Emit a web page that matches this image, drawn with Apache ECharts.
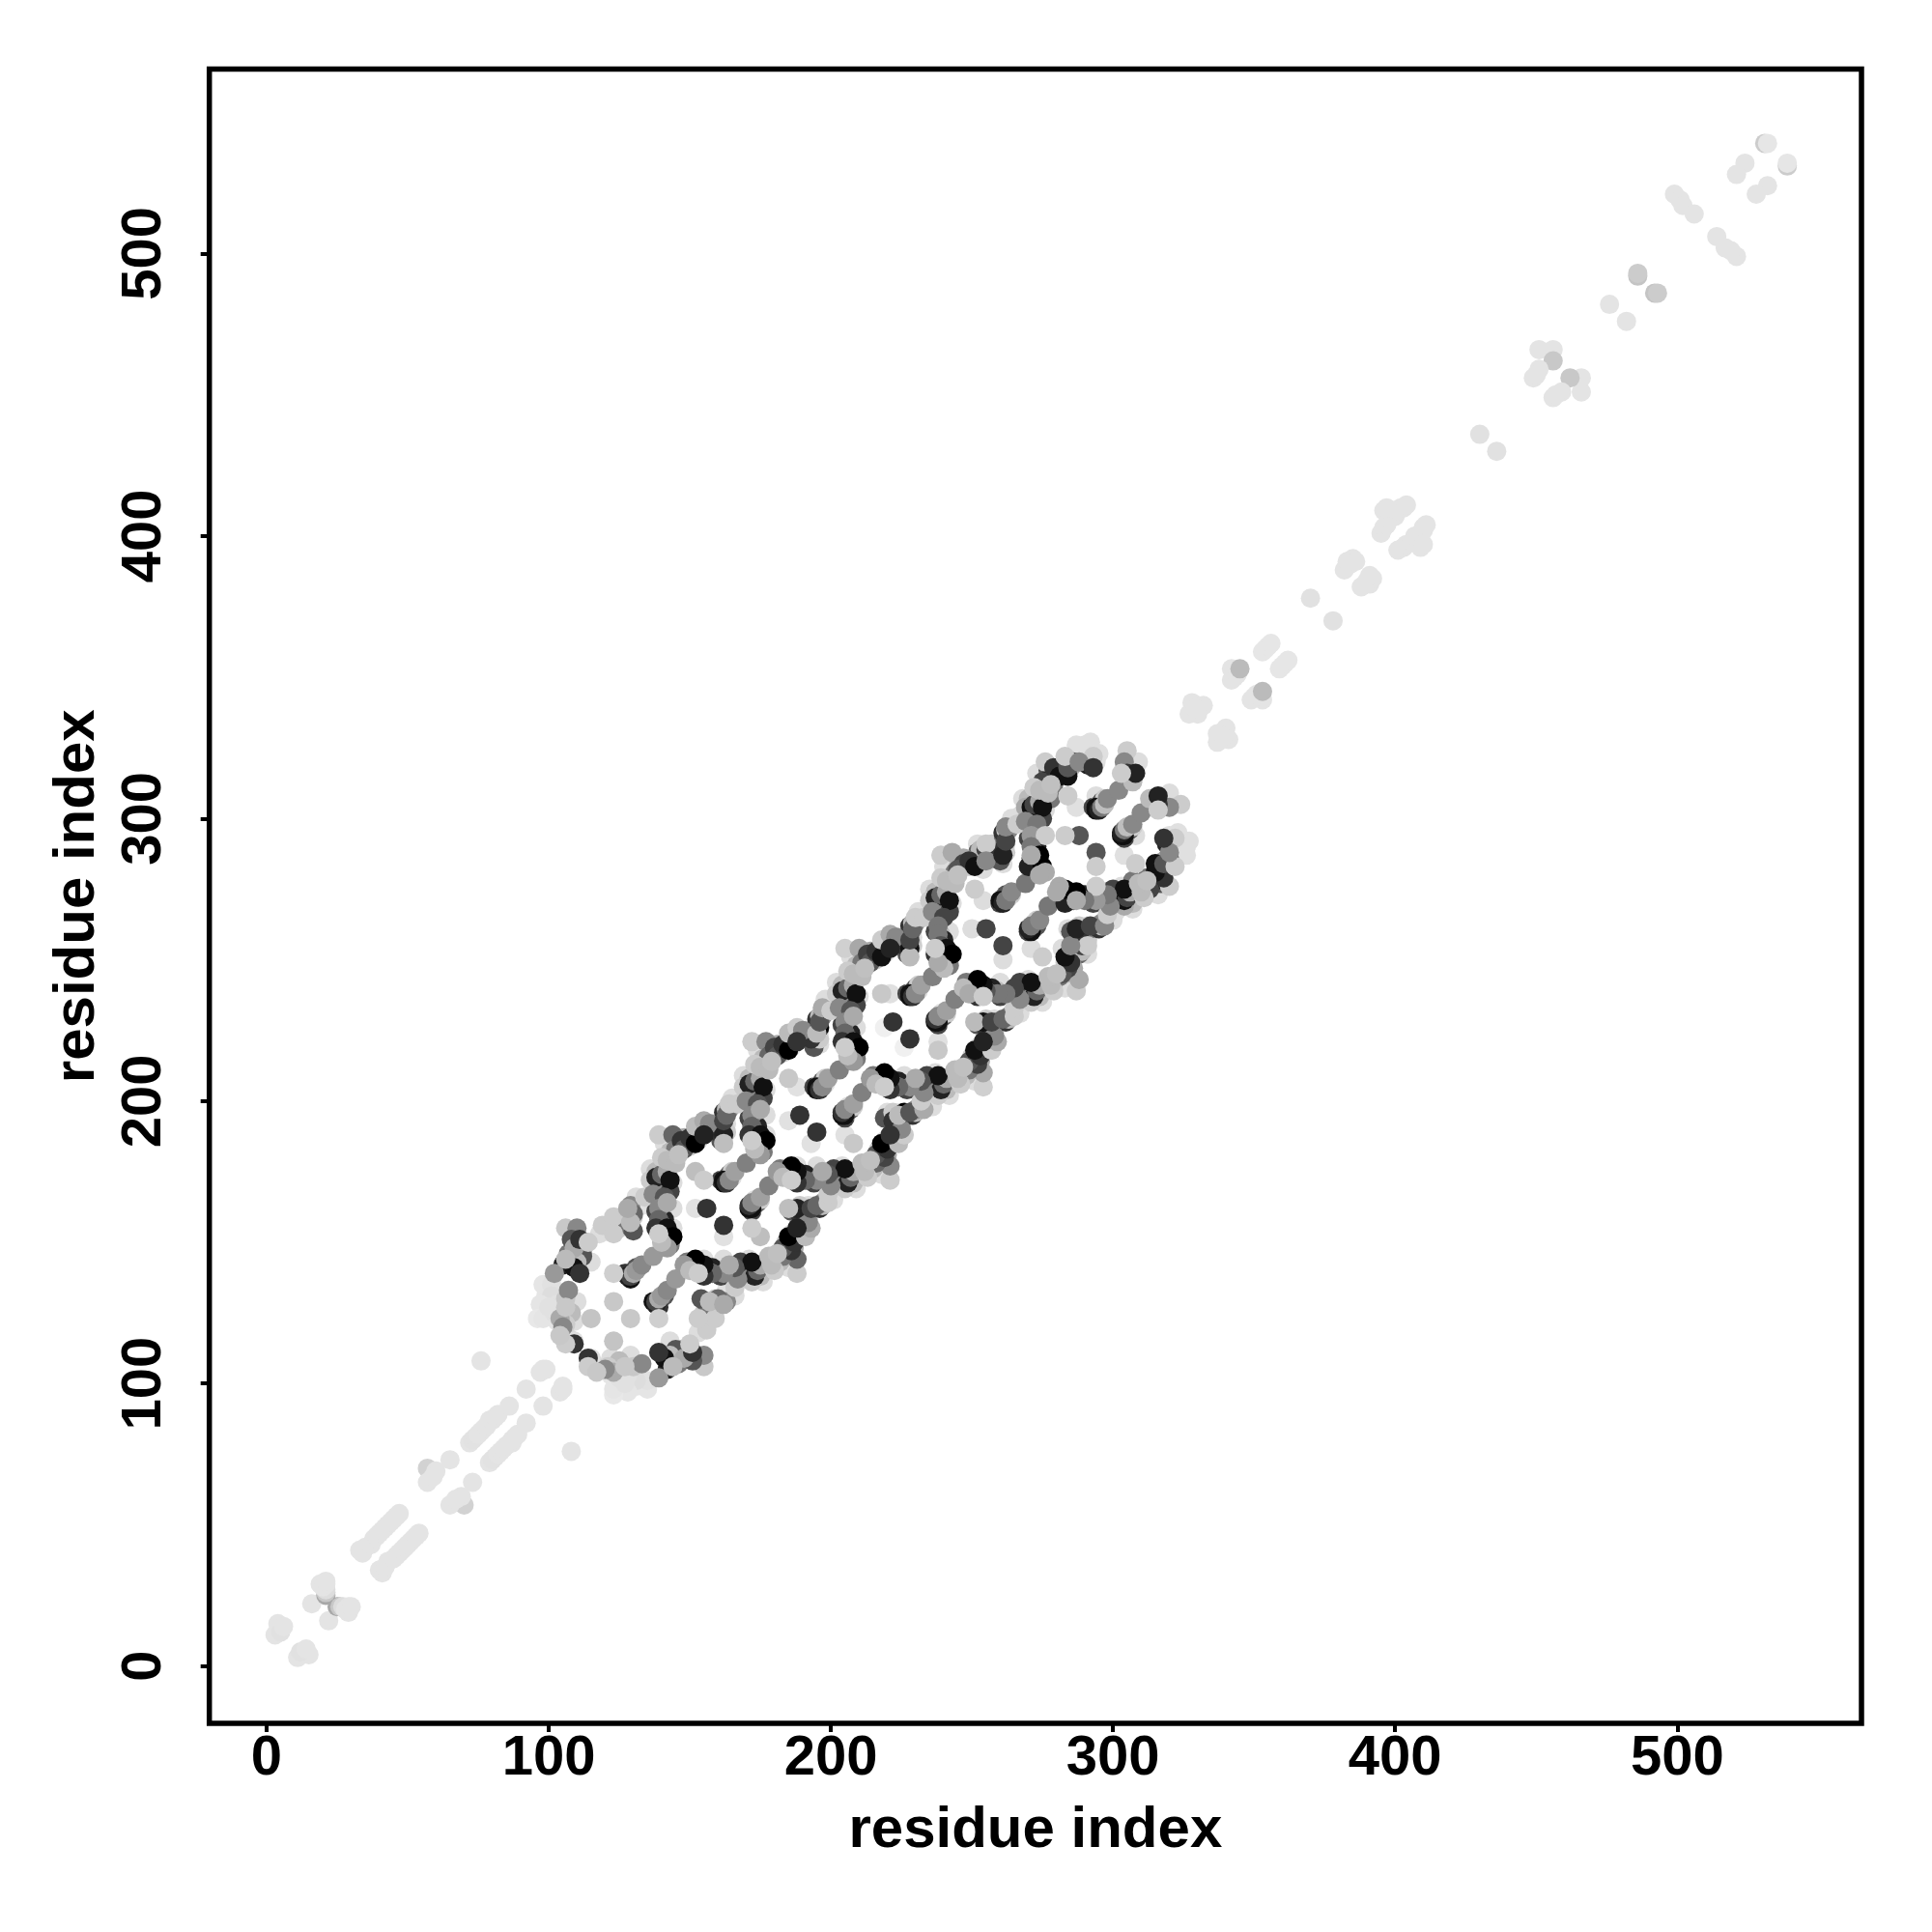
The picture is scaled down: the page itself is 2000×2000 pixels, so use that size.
<!DOCTYPE html>
<html>
<head>
<meta charset="utf-8">
<script src="https://cdn.jsdelivr.net/npm/echarts@6/dist/echarts.min.js"></script>
<style>html,body{margin:0;padding:0;background:#fff}#c{width:2000px;height:2000px}</style>
</head>
<body>
<div id="c"></div>
<script>
// Contacts as [residue i, residue j, grey level]; the map is symmetric, only i<j is listed.
const tailLow = [[4,15,228],[3,11,228],[5,12,225],[6,14,228],[16,22,228],[19,29,228],[21,25,168],[21,26,200],[21,27,221],[20,28,228],[21,29,228],[21,30,228],
[33,41,228],[34,40,228],[35,42,228],[37,43,228],[38,45,228],[39,46,228],[40,47,228],[41,48,228],[42,49,228],[43,50,228],[44,51,228],[45,52,228],[46,53,228],[47,54,228],
[57,70,210],[60,69,228],[57,65,228],[59,67,228],[65,73,228],
[72,79,228],[73,80,226],[74,81,226],[75,82,228],[76,83,228],[77,84,228],[78,85,228],[79,87,228],[80,87,228],[81,88,228],[82,89,228],[86,92,228],[76,108,228],
[92,98,228],[97,104,228],[98,105,228],[99,105,228]];
const repeat123 = [[112,147,170],[112,145,85],[108,144,34],[107,146,120],[110,143,187],[125,155,204],[121,155,221],[128,156,119],[129,160,68],[129,163,136],[130,159,204],[106,130,200],[108,125,187],[106,121,204],[99,131,229],[103,122,229],[107,116,210],[128,139,68],[129,137,17],[130,140,187],[131,141,85],
[106,155,200],[110,155,136],[108,151,85],[109,148,170],[111,151,51],[114,150,204],[115,143,221],[105,142,34],[109,141,17],[111,139,51],[102,139,153],[106,144,187],[119,156,204],[123,159,204],[123,153,204],[118,153,221],[130,154,85],[130,160,102],[129,157,187],[128,162,170],[131,166,221],[127,158,210],[133,163,225],
[98,135,229],[101,135,225],[101,131,221],[97,128,229],[96,123,232],[98,123,229],[102,125,225],[107,133,136],[110,129,221],[115,123,196],[104,123,170],[105,120,136],[109,122,221],[109,114,51],[109,115,224],[106,114,204],[106,127,200],[103,128,225],[100,127,225],[104,117,200],
[127,139,51],[128,138,34],[129,138,68],[130,139,170],[131,140,153],[133,142,136],[137,145,153],[123,139,207],[123,129,200]];
const repeat156 = [[146,184,187],[149,185,34],[151,186,170],[153,189,102],[154,190,187],[156,190,68],[158,192,204],[148,187,170],[150,184,204],[161,186,85],[163,189,204],[162,193,119],[163,192,221],[162,196,51],[163,197,187],[164,197,136],[160,189,51],
[138,175,187],[139,171,51],[141,170,17],[142,172,187],[140,169,136],[143,168,68],[139,165,170],[138,161,68],[140,160,187],[141,158,34],[140,156,204],[142,153,34],[141,152,187],[143,149,120],[161,172,68],[162,171,17],[163,173,187],[164,174,85],[165,175,204],
[139,188,204],[144,188,102],[141,185,221],[143,182,187],[145,183,119],[147,186,51],[148,183,85],[150,187,51],[152,185,0],[152,191,187],[155,193,170],[157,192,136],[155,188,34],[153,186,221],[162,188,34],[162,185,190],[162,193,68],[163,195,102],[164,199,204],[165,201,221],
[136,176,221],[136,172,204],[138,173,34],[140,174,102],[142,175,170],[143,172,17],[144,171,221],[141,177,221],[140,180,204],[142,179,187],[145,178,187],[146,181,192],[134,166,204],[137,167,136],[141,166,85],[139,162,136],[144,162,221],[139,158,102],[138,155,51],[142,155,17],[144,152,0],[144,155,221],[143,151,221],[142,148,153],[140,150,187],[139,153,204],[142,164,170],
[162,172,17],[163,171,51],[164,172,136],[165,173,221],[166,175,160],[170,178,128],[152,175,190],[155,172,204],[156,162,51],[152,162,225]];
const repeat189 = [[179,217,187],[182,218,34],[184,219,170],[186,222,102],[187,223,187],[189,223,68],[191,225,204],[181,220,170],[183,217,204],[194,219,85],[196,222,204],[195,226,119],[196,225,221],[195,229,51],[196,230,187],[197,230,136],[193,222,51],
[171,208,187],[172,204,51],[174,203,17],[175,205,187],[173,202,136],[176,201,68],[172,198,170],[171,194,68],[173,193,187],[174,191,34],[173,189,204],[175,186,34],[174,185,187],[176,182,120],[194,205,68],[195,204,17],[196,206,187],[197,207,85],[198,208,204],
[172,221,204],[177,221,136],[174,218,221],[176,215,187],[178,216,102],[180,219,68],[181,216,85],[183,220,51],[185,218,0],[185,224,187],[188,226,204],[190,225,136],[188,221,51],[186,219,221],[196,226,0],[195,224,187],[196,228,85],[196,220,221],[197,233,170],[198,236,221],
[169,209,221],[169,205,204],[171,206,34],[173,207,102],[175,208,170],[176,205,17],[177,204,221],[174,210,221],[173,213,204],[175,212,187],[178,211,187],[179,214,192],[167,199,204],[170,200,136],[174,199,85],[172,195,136],[177,195,221],[172,191,102],[171,188,51],[175,188,17],[177,186,0],[177,188,221],[176,184,221],[175,181,153],[173,183,187],[172,186,204],[175,197,170],
[195,205,17],[196,204,51],[197,205,136],[198,206,221],[199,208,160],[203,211,128],[185,208,200],[188,205,225],[189,195,51],[185,193,225]];
const repeat222 = [[212,250,187],[215,251,34],[217,252,170],[219,255,102],[220,256,187],[222,256,68],[224,258,204],[214,253,170],[216,250,204],[227,252,85],[229,255,204],[228,259,119],[229,258,221],[228,262,51],[229,263,187],[230,263,136],[226,255,51],
[204,241,187],[205,237,51],[207,236,17],[208,238,187],[206,235,136],[209,234,68],[205,231,170],[204,227,68],[206,226,187],[207,224,34],[206,222,204],[208,219,34],[207,218,187],[209,215,120],[227,238,68],[228,237,17],[229,239,187],[230,240,85],[231,241,204],
[205,254,208],[210,254,168],[207,251,221],[209,248,187],[211,249,119],[213,252,64],[214,249,85],[216,253,51],[218,251,17],[218,257,204],[221,259,170],[223,258,136],[221,254,34],[219,252,221],[228,254,17],[228,251,187],[228,257,68],[229,261,102],[230,265,204],[231,267,221],
[202,242,221],[202,238,204],[204,239,34],[206,240,102],[208,241,170],[209,238,17],[210,237,221],[207,243,221],[206,246,204],[208,245,187],[211,244,187],[212,247,192],[200,232,204],[203,233,136],[207,232,85],[205,228,136],[209,226,221],[205,224,102],[204,221,51],[208,221,17],[210,219,0],[209,217,221],[208,214,153],[206,216,187],[205,219,204],[208,230,170],
[228,238,17],[229,237,51],[230,238,136],[231,239,221],[232,241,160],[236,244,128],[218,238,200],[221,238,224],[222,228,51],[219,226,240]];
const repeat255 = [[245,283,187],[248,284,34],[250,285,170],[252,288,102],[253,289,187],[255,289,68],[257,291,204],[247,286,170],[249,283,204],[260,285,85],[262,288,204],[261,292,119],[262,291,221],[261,295,51],[262,296,187],[263,296,136],[259,288,51],
[237,274,187],[238,270,51],[240,269,17],[241,271,187],[239,268,136],[242,267,68],[238,264,170],[237,260,68],[239,259,187],[240,257,34],[239,255,204],[241,252,34],[240,251,187],[242,248,120],[260,270,68],[261,272,187],[262,273,85],[264,273,204],
[239,287,204],[243,288,170],[240,283,221],[242,279,187],[244,281,119],[247,284,68],[245,282,85],[249,285,51],[251,283,17],[252,291,221],[255,291,204],[255,285,136],[254,282,221],[261,287,34],[261,284,220],[262,292,68],[262,297,136],[264,300,221],[267,301,221],
[235,275,221],[235,271,204],[237,272,34],[239,273,102],[241,274,170],[242,271,17],[243,270,221],[240,276,221],[239,279,204],[241,278,187],[244,277,187],[245,280,192],[233,265,204],[236,267,136],[240,265,68],[238,262,119],[242,260,221],[238,259,119],[239,255,85],[237,252,51],[241,254,17],[243,252,0],[242,249,221],[240,247,187],[238,249,170],[237,254,204],
[260,271,17],[261,270,34],[262,271,120],[263,272,221],[264,274,136],[269,277,119],[251,275,204],[254,271,221],[255,261,68],[250,261,221]];
const repeat288 = [[277,317,85],[278,315,34],[280,316,187],[282,316,51],[283,319,119],[285,318,170],[277,312,187],[275,310,204],[279,312,119],[281,318,204],[286,320,85],[292,320,85],[291,319,34],[293,322,204],
[270,307,187],[271,303,51],[273,302,17],[274,304,187],[272,301,136],[275,300,68],[271,297,170],[270,293,68],[272,292,187],[273,290,34],[272,288,204],[274,284,34],[273,285,187],[275,281,120],[293,304,68],[294,303,17],[295,305,187],[296,306,85],[297,307,204],
[276,320,204],[273,316,221],[275,313,68],[279,318,51],[281,315,17],[284,315,17],[284,318,85],[283,322,204],[276,309,120],[278,307,119],[288,320,136],[288,324,224],[292,327,224],[290,326,224],[295,323,224],[293,318,51],[294,320,224],[291,323,224],[287,326,224],
[268,307,221],[269,304,170],[271,304,17],[272,305,68],[274,306,170],[275,304,17],[276,303,221],[273,308,221],[272,311,204],[274,310,187],[277,309,187],[278,312,192],[266,298,204],[269,299,136],[273,298,119],[271,294,153],[276,294,204],[271,290,119],[271,286,85],[270,283,34],[274,287,0],[275,283,0],[276,281,170],[271,287,170],[274,280,170],
[294,308,221],[294,304,17],[295,303,34],[296,304,120],[297,305,190],[298,307,136],[302,310,136],[284,308,204],[287,304,224],[288,294,85],[283,294,204]];
const repeat321 = [[305,324,204],[304,320,136],[305,316,51],[307,313,187],[308,316,34],[309,320,221],[303,316,204]];
const tailHigh = [[328,341,228],[327,337,228],[332,340,228],[330,337,228],[329,339,228],
[342,353,228],[342,349,228],[343,350,228],[344,351,228],[345,353,187],
[353,359,230],[354,360,230],[355,361,230],[356,362,230],[370,378,225],
[382,388,228],[383,391,228],[385,392,228],[384,390,228],[386,391,228],
[395,401,228],[396,403,228],[397,404,228],[396,409,228],[398,406,228],[399,408,228],[400,407,228],[401,409,228],[402,410,228],[403,410,228],[404,411,228],[397,410,228],
[430,436,225],[451,466,228],[456,466,228],[456,462,200],[449,456,228],[451,459,228],[450,457,228],
[476,482,228],[486,492,196],[486,493,204],[499,521,228],[501,519,228],[502,517,228],[506,514,228],
[524,532,228],[521,528,228],[531,539,204],[532,539,230]];
const tickValues = [0,100,200,300,400,500];
const axisTitle = 'residue index';

const repeats = [repeat123, repeat156, repeat189, repeat222, repeat255, repeat288, repeat321];
const points = [];
const addPair = p => { points.push(p); points.push([p[1], p[0], p[2]]); };
const paleFirst = g => g.filter(p => p[2] >= 210).concat(g.filter(p => p[2] < 210));
tailLow.forEach(addPair);
repeats.forEach(g => paleFirst(g).forEach(addPair));
tailHigh.forEach(addPair);

const font = '"Liberation Sans", Arial, sans-serif';
const axisCommon = (nameGap) => ({
  type: 'value', min: -20.3, max: 565.3, name: axisTitle, nameLocation: 'middle', nameGap,
  nameTextStyle: {fontFamily: font, fontWeight: 'bold', fontSize: 60, color: '#000'},
  splitLine: {show: false},
  axisLine: {show: false, onZero: false},
  axisTick: {show: true, length: 9, inside: false, lineStyle: {color: '#000', width: 4}, customValues: tickValues},
  axisLabel: {fontFamily: font, fontWeight: 'bold', fontSize: 58, color: '#000', customValues: tickValues, formatter: v => String(v)}
});
const xAxis = axisCommon(81);
xAxis.axisLabel.margin = 8;
const yAxis = axisCommon(106);
yAxis.axisLabel.rotate = 90;
yAxis.axisLabel.margin = 67;
yAxis.axisLabel.align = 'center';
yAxis.axisLabel.verticalAlign = 'middle';

const chart = echarts.init(document.getElementById('c'), null, {renderer: 'canvas', width: 2000, height: 2000});
chart.setOption({
  animation: false,
  backgroundColor: '#fff',
  grid: {left: 216.7, right: 73, top: 71.5, bottom: 216, show: true, borderColor: '#000', borderWidth: 5.5, backgroundColor: 'transparent'},
  xAxis, yAxis,
  series: [{
    type: 'scatter', symbol: 'circle', symbolSize: 20, clip: false, z: 1,
    data: points,
    itemStyle: {opacity: 1, color: p => { const g = p.value[2]; return 'rgb(' + g + ',' + g + ',' + g + ')'; }}
  }]
});
</script>
</body>
</html>
